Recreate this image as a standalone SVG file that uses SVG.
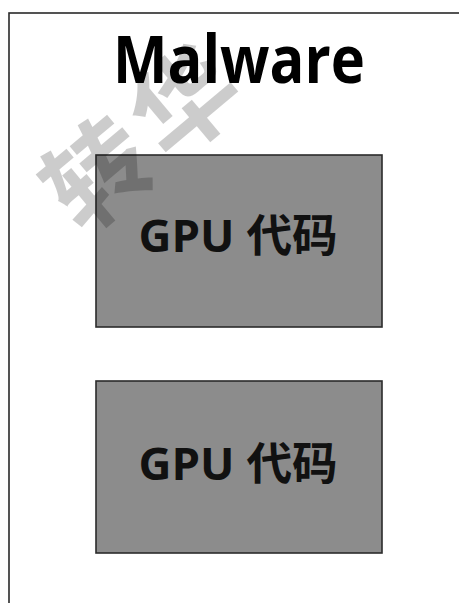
<svg xmlns="http://www.w3.org/2000/svg" width="459" height="603" viewBox="0 0 459 603">
  <style>
    .frame { fill: #ffffff; stroke: #2a2a2a; stroke-width: 1.6; }
    .box { fill: #8c8c8c; stroke: #2b2b2b; stroke-width: 1.6; }
    .title { font-family: "Open Sans", "Noto Sans", "Liberation Sans", sans-serif; font-weight: 700; font-size: 67px; fill: #000; }
    .lbl { font-family: "Open Sans", "Noto Sans CJK SC", "Noto Sans", sans-serif; font-weight: 700; font-size: 45px; fill: #111; }
    .wm { font-family: "Noto Sans CJK SC", "Noto Sans", sans-serif; font-weight: 700; font-size: 104px; fill: #000; fill-opacity: 0.2; }
  </style>
  <rect x="0" y="0" width="459" height="603" fill="#ffffff"/>
  <g id="malware">
    <rect class="frame" x="9" y="13" width="470" height="620"/>
    <text class="title" x="239" y="83" text-anchor="middle" textLength="252" lengthAdjust="spacingAndGlyphs">Malware</text>
  </g>
  <g id="gpu1">
    <rect class="box" x="96" y="155" width="286" height="172"/>
    <text class="lbl" x="238" y="252" text-anchor="middle" textLength="199" lengthAdjust="spacingAndGlyphs">GPU 代码</text>
  </g>
  <g id="gpu2">
    <rect class="box" x="96" y="381" width="286" height="172"/>
    <text class="lbl" x="238" y="480" text-anchor="middle" textLength="199" lengthAdjust="spacingAndGlyphs">GPU 代码</text>
  </g>
  <g id="connectors"></g>
  <g id="watermark">
    <text class="wm" transform="translate(93,168) rotate(-40)" text-anchor="middle" dominant-baseline="central">转</text>
    <text class="wm" transform="translate(180,96) rotate(-40)" text-anchor="middle" dominant-baseline="central">华</text>
  </g>
</svg>
